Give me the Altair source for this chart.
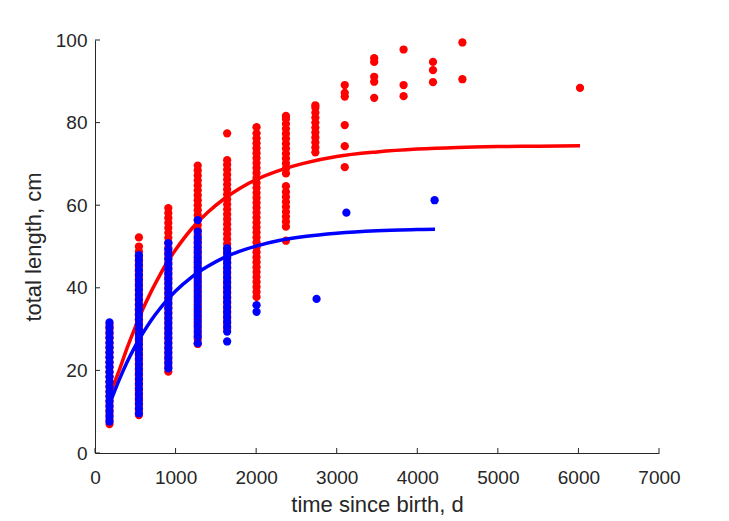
import altair as alt
import pandas as pd

# ---------------- data ----------------
red_ages = [180, 545, 910, 1275, 1640, 2005, 2370, 2735, 3100, 3465, 3830, 4195, 4560, 6020]
red_lengths = [
    [7.0, 8.1, 9.3, 10.4, 11.6, 12.7, 13.9, 15.0, 16.2, 17.3, 18.5, 19.6, 20.8, 21.9, 23.1,
     24.2, 25.4, 26.5, 27.7, 28.8, 30.0, 31.0],
    [9.2, 10.4, 11.6, 12.8, 14.0, 15.2, 16.4, 17.6, 18.8, 20.0, 21.2, 22.4, 23.6, 24.8, 26.0,
     27.2, 28.4, 29.6, 30.8, 32.0, 33.2, 34.4, 35.6, 36.8, 38.0, 39.2, 40.4, 41.6, 42.8, 44.0,
     45.2, 46.4, 47.6, 48.8, 50.0, 52.2],
    [19.7, 20.9, 22.1, 23.3, 24.5, 25.7, 26.9, 28.1, 29.3, 30.5, 31.7, 32.9, 34.1, 35.3, 36.5,
     37.7, 38.9, 40.1, 41.3, 42.5, 43.7, 44.9, 46.1, 47.3, 48.5, 49.7, 50.9, 52.1, 53.3, 54.5,
     55.7, 56.9, 58.1, 59.3],
    [26.4, 27.6, 28.8, 30.0, 31.2, 32.4, 33.6, 34.8, 36.0, 37.2, 38.4, 39.6, 40.8, 42.0, 43.2,
     44.4, 45.6, 46.8, 48.0, 49.2, 50.4, 51.6, 52.8, 54.0, 55.2, 56.4, 57.6, 58.8, 60.0, 61.2,
     62.4, 63.6, 64.8, 66.0, 67.2, 68.4, 69.6],
    [30.2, 31.4, 32.6, 33.8, 35.0, 36.2, 37.4, 38.6, 39.8, 41.0, 42.2, 43.4, 44.6, 45.8, 47.0,
     48.2, 49.4, 50.6, 51.8, 53.0, 54.2, 55.4, 56.6, 57.8, 59.0, 60.2, 61.4, 62.6, 63.8, 65.0,
     66.2, 67.4, 68.6, 69.8, 70.9, 77.4],
    [37.8, 39.0, 40.2, 41.4, 42.6, 43.8, 45.0, 46.2, 47.4, 48.6, 49.8, 51.0, 52.2, 53.4, 54.6,
     55.8, 57.0, 58.2, 59.4, 60.6, 61.8, 63.0, 64.2, 65.4, 66.6, 67.8, 69.0, 70.2, 71.4, 72.6,
     73.8, 75.0, 76.2, 77.4, 78.9],
    [51.4, 54.8, 56.0, 57.2, 58.4, 59.6, 60.8, 62.0, 63.2, 64.6, 67.7, 68.9, 70.1, 71.3, 72.5,
     73.7, 74.9, 76.1, 77.3, 78.5, 79.7, 80.9, 81.6],
    [72.8, 74.0, 75.2, 76.4, 77.6, 78.8, 80.0, 81.2, 82.4, 83.6, 84.2],
    [69.2, 74.3, 79.4, 86.3, 87.2, 89.1],
    [86.0, 89.9, 91.1, 94.7, 95.6],
    [86.4, 89.1, 97.7],
    [89.8, 92.7, 94.7],
    [90.5, 99.4],
    [88.4],
]

blue_ages = [180, 545, 910, 1275, 1640, 2005, 2750, 3120, 4215]
blue_lengths = [
    [7.6, 8.8, 10.0, 11.2, 12.4, 13.6, 14.8, 16.0, 17.2, 18.4, 19.6, 20.8, 22.0, 23.2, 24.4,
     25.6, 26.8, 28.0, 29.2, 30.4, 31.6],
    [9.6, 10.8, 12.0, 13.2, 14.4, 15.6, 16.8, 18.0, 19.2, 20.4, 21.6, 22.8, 24.0, 25.2, 26.4,
     27.6, 28.8, 30.0, 31.2, 32.4, 33.6, 34.8, 36.0, 37.2, 38.4, 39.6, 40.8, 42.0, 43.2, 44.4,
     45.6, 46.8, 47.9],
    [20.5, 21.7, 22.9, 24.1, 25.3, 26.5, 27.7, 28.9, 30.1, 31.3, 32.5, 33.7, 34.9, 36.1, 37.3,
     38.5, 39.7, 40.9, 42.1, 43.3, 44.5, 45.7, 46.9, 48.1, 49.3, 50.8],
    [26.6, 28.2, 29.4, 30.6, 31.8, 33.0, 34.2, 35.4, 36.6, 37.8, 39.0, 40.2, 41.4, 42.6, 43.8,
     45.0, 46.2, 47.4, 48.6, 49.8, 51.0, 52.2, 53.6, 56.4],
    [27.0, 29.4, 30.6, 31.8, 33.0, 34.2, 35.4, 36.6, 37.8, 39.0, 40.2, 41.4, 42.6, 43.8, 45.0,
     46.2, 47.4, 48.6, 49.6],
    [34.2, 35.8],
    [37.3],
    [58.2],
    [61.2],
]

red_curve_t = [190, 300, 400, 500, 600, 700, 800, 900, 1000, 1200, 1400, 1600, 1800, 2000,
               2300, 2600, 3000, 3500, 4000, 4500, 5000, 5500, 6020]
red_curve_L = [14.5, 20.0, 25.5, 30.5, 35.1, 39.2, 42.9, 46.3, 49.2, 54.3, 58.3, 61.5, 64.1,
               66.2, 68.5, 70.2, 71.8, 72.9, 73.6, 74.0, 74.2, 74.3, 74.4]

blue_curve_t = [190, 300, 400, 500, 600, 700, 800, 900, 1000, 1200, 1400, 1600, 1800, 2000,
                2300, 2600, 3000, 3500, 4000, 4220]
blue_curve_L = [12.3, 17.7, 22.1, 25.9, 29.2, 32.2, 34.8, 37.1, 39.2, 42.6, 45.2, 47.3, 48.9,
                50.1, 51.5, 52.4, 53.2, 53.8, 54.1, 54.2]

x_ticks = [0, 1000, 2000, 3000, 4000, 5000, 6000, 7000]
y_ticks = [0, 20, 40, 60, 80, 100]

# ---------------- tables ----------------
red_rows = [{"t": a, "L": v} for a, vals in zip(red_ages, red_lengths) for v in vals]
blue_rows = [{"t": a, "L": v} for a, vals in zip(blue_ages, blue_lengths) for v in vals]
red_df = pd.DataFrame(red_rows)
blue_df = pd.DataFrame(blue_rows)
red_curve = pd.DataFrame({"t": red_curve_t, "L": red_curve_L})
blue_curve = pd.DataFrame({"t": blue_curve_t, "L": blue_curve_L})
xt_df = pd.DataFrame({"t": x_ticks})
yt_df = pd.DataFrame({"L": y_ticks})

W, H = 564, 413
AX = "#262626"
FONT = "Liberation Sans"

xscale = alt.Scale(domain=[0, 7000], nice=False, zero=False)
yscale = alt.Scale(domain=[0, 100], nice=False, zero=False)

xaxis = alt.Axis(title="time since birth, d", values=x_ticks, format="d", tickSize=0,
                 labelPadding=15, grid=False, domainColor=AX, domainWidth=1,
                 labelColor=AX, labelFontSize=19, labelFont=FONT, titleFont=FONT,
                 titleFontSize=22, titleFontWeight="normal", titleColor=AX, titlePadding=7,
                 labelFlush=False)
yaxis = alt.Axis(title="total length, cm", values=y_ticks, format="d", tickSize=0,
                 labelPadding=8, grid=False, domainColor=AX, domainWidth=1,
                 labelColor=AX, labelFontSize=19, labelFont=FONT, titleFont=FONT,
                 titleFontSize=22, titleFontWeight="normal", titleColor=AX, titlePadding=10,
                 labelFlush=False)

red_pts = alt.Chart(red_df).mark_circle(size=68, color="#ff0000", opacity=1).encode(
    x=alt.X("t:Q", scale=xscale, axis=xaxis),
    y=alt.Y("L:Q", scale=yscale, axis=yaxis),
)
blue_pts = alt.Chart(blue_df).mark_circle(size=68, color="#0000ff", opacity=1).encode(
    x=alt.X("t:Q", scale=xscale),
    y=alt.Y("L:Q", scale=yscale),
)
red_line = alt.Chart(red_curve).mark_line(color="#ff0000", strokeWidth=3.5,
                                          interpolate="monotone").encode(
    x=alt.X("t:Q", scale=xscale), y=alt.Y("L:Q", scale=yscale))
blue_line = alt.Chart(blue_curve).mark_line(color="#0000ff", strokeWidth=3.5,
                                            interpolate="monotone").encode(
    x=alt.X("t:Q", scale=xscale), y=alt.Y("L:Q", scale=yscale))

xt = alt.Chart(xt_df).mark_rule(color=AX, strokeWidth=1).encode(
    x=alt.X("t:Q", scale=xscale), y=alt.value(H), y2=alt.value(H - 5))
yt = alt.Chart(yt_df).mark_rule(color=AX, strokeWidth=1).encode(
    y=alt.Y("L:Q", scale=yscale), x=alt.value(0), x2=alt.value(5))

chart = alt.layer(red_pts, red_line, blue_pts, blue_line, xt, yt).properties(
    width=W, height=H,
    autosize=alt.AutoSizeParams(type="none"),
    padding={"left": 95, "top": 40, "right": 70, "bottom": 68},
    background="white",
).configure_view(stroke=None)

chart.save("out.html", embed_options={"renderer": "svg", "actions": False})
